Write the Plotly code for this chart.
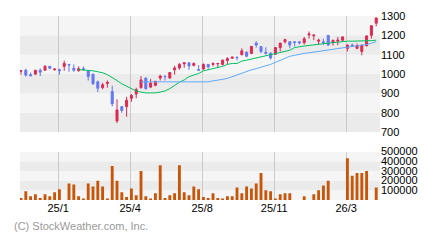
import plotly.graph_objects as go

# ---------------- data (weekly bars) ----------------
opens = [1015, 1020, 997, 1000, 1020, 1020, 1040, 1023, 1023, 1040,
         1050, 1030, 1018, 1028, 1017, 1000, 960, 930, 952, 910,
         758, 832, 832, 875, 897, 930, 980, 933, 942, 980,
         990, 980, 1022, 1032, 1053, 1058, 1045, 1023, 1027, 1050,
         1050, 1053, 1050, 1070, 1082, 1088, 1100, 1113, 1107, 1160,
         1142, 1113, 1108, 1103, 1137, 1167, 1167, 1167, 1167, 1162,
         1202, 1198, 1170, 1167, 1200, 1163, 1170, 1175, 1133, 1150,
         1133, 1117, 1147, 1200, 1263]
highs = [1018, 1028, 1008, 1020, 1030, 1047, 1040, 1030, 1028, 1070,
         1050, 1050, 1040, 1040, 1017, 1000, 967, 955, 967, 940,
         870, 835, 883, 897, 930, 990, 980, 975, 963, 997,
         990, 1008, 1043, 1057, 1058, 1058, 1060, 1047, 1055, 1050,
         1060, 1055, 1075, 1087, 1088, 1088, 1133, 1117, 1143, 1170,
         1142, 1138, 1113, 1137, 1160, 1183, 1170, 1167, 1170, 1192,
         1220, 1202, 1183, 1183, 1200, 1175, 1192, 1195, 1153, 1158,
         1158, 1150, 1200, 1250, 1290]
lows = [997, 987, 988, 995, 990, 1017, 1028, 1017, 997, 1017,
        1012, 1012, 1012, 1020, 967, 945, 907, 922, 930, 833,
        747, 800, 780, 857, 875, 925, 920, 928, 937, 967,
        967, 975, 997, 1023, 1033, 1022, 1040, 1017, 1022, 1028,
        1040, 1033, 1045, 1050, 1080, 1070, 1097, 1087, 1103, 1137,
        1108, 1100, 1075, 1100, 1117, 1158, 1133, 1142, 1153, 1153,
        1183, 1175, 1150, 1150, 1147, 1147, 1150, 1170, 1117, 1142,
        1128, 1097, 1142, 1183, 1247]
closes = [1018, 995, 992, 1020, 1010, 1040, 1030, 1026, 1018, 1055,
          1047, 1020, 1028, 1023, 987, 950, 927, 945, 957, 847,
          815, 812, 865, 890, 920, 970, 925, 953, 963, 990,
          987, 1008, 1032, 1050, 1058, 1042, 1055, 1020, 1050, 1037,
          1055, 1055, 1072, 1080, 1088, 1085, 1120, 1092, 1143, 1150,
          1117, 1108, 1083, 1137, 1160, 1178, 1150, 1163, 1162, 1182,
          1207, 1202, 1175, 1163, 1150, 1175, 1175, 1192, 1150, 1145,
          1147, 1150, 1197, 1250, 1290]

# 13-week moving average
ma_short = [None] * 12 + [
    1023, 1022, 1020, 1017, 1012, 1007, 997, 983, 967, 950,
    938, 925, 913, 907, 903, 903, 903, 907, 913, 925,
    942, 958, 970, 987, 995, 1003, 1017, 1022, 1028, 1033,
    1040, 1050, 1055, 1055, 1067, 1072, 1078, 1083, 1088, 1092,
    1100, 1105, 1112, 1117, 1123, 1137, 1142, 1145, 1148, 1150,
    1153, 1157, 1160, 1163, 1167, 1168, 1170, 1170, 1170, 1170,
    1170, 1173, 1175]

# 26-week moving average
ma_long = [None] * 25 + [
    960, 960, 960, 960, 960, 960, 960, 960, 960, 960,
    960, 960, 960, 960, 960, 965, 968, 973, 978, 987,
    997, 1005, 1013, 1022, 1028, 1037, 1043, 1050, 1060, 1070,
    1080, 1092, 1097, 1103, 1107, 1110, 1113, 1118, 1122, 1125,
    1128, 1132, 1135, 1138, 1142, 1145, 1148, 1153, 1160, 1167]

volumes = [20000, 90000, 40000, 60000, 20000, 60000, 40000, 80000, 110000, 0,
           170000, 160000, 40000, 10000, 170000, 140000, 200000, 140000, 10000, 350000,
           200000, 80000, 30000, 120000, 50000, 300000, 40000, 10000, 70000, 360000,
           20000, 50000, 70000, 360000, 80000, 50000, 140000, 110000, 30000, 20000,
           70000, 20000, 10000, 40000, 40000, 130000, 70000, 140000, 120000, 170000,
           280000, 100000, 90000, 10000, 60000, 70000, 70000, 0, 0, 40000,
           0, 60000, 100000, 150000, 200000, 0, 0, 0, 430000, 250000,
           280000, 280000, 300000, 0, 130000]

bar_index = list(range(len(closes)))

month_tick_pos = [7.75, 22.75, 37.75, 52.75, 67.75]
month_tick_text = ["25/1", "25/4", "25/8", "25/11", "26/3"]

price_ticks = [700, 800, 900, 1000, 1100, 1200, 1300]
volume_ticks = [100000, 200000, 300000, 400000, 500000]

# ---------------- style ----------------
RED = "#dc2a52"
BLUE = "#6478f0"
GREEN = "#00c060"
LBLUE = "#60aaf8"
ORANGE = "#c8560a"
LIGHT = "#f5f5f5"
DARK = "#ebebeb"
GRID = "#cacaca"
FONT = "Liberation Sans, Arial, sans-serif"

fig = go.Figure()

fig.add_trace(go.Candlestick(
    x=bar_index, open=opens, high=highs, low=lows, close=closes,
    increasing=dict(line=dict(color=RED, width=1), fillcolor=RED),
    decreasing=dict(line=dict(color=BLUE, width=1), fillcolor=BLUE),
    whiskerwidth=0, showlegend=False, hoverinfo="skip",
    xaxis="x", yaxis="y"))

fig.add_trace(go.Scatter(x=bar_index, y=ma_short, mode="lines",
                         line=dict(color=GREEN, width=1),
                         showlegend=False, hoverinfo="skip",
                         xaxis="x", yaxis="y"))
fig.add_trace(go.Scatter(x=bar_index, y=ma_long, mode="lines",
                         line=dict(color=LBLUE, width=1),
                         showlegend=False, hoverinfo="skip",
                         xaxis="x", yaxis="y"))

fig.add_trace(go.Bar(x=bar_index, y=volumes, width=0.6,
                     marker=dict(color=ORANGE, line=dict(width=0)),
                     showlegend=False, hoverinfo="skip",
                     xaxis="x2", yaxis="y2"))

# background bands
shapes = []
for k in range(len(price_ticks) - 1):
    lo, hi = price_ticks[k], price_ticks[k + 1]
    col = DARK if k % 2 == 0 else LIGHT
    shapes.append(dict(type="rect", xref="paper", yref="y", x0=0, x1=1,
                       y0=lo, y1=hi, fillcolor=col, line=dict(width=0),
                       layer="below"))
vol_edges = [0] + volume_ticks
for k in range(len(vol_edges) - 1):
    lo, hi = vol_edges[k], vol_edges[k + 1]
    col = LIGHT if k % 2 == 0 else DARK
    shapes.append(dict(type="rect", xref="paper", yref="y2", x0=0, x1=1,
                       y0=lo, y1=hi, fillcolor=col, line=dict(width=0),
                       layer="below"))

xr = [-0.21, 74.79]

fig.update_layout(
    width=440, height=240,
    margin=dict(l=20, r=60, t=10, b=40, pad=0),
    paper_bgcolor="white", plot_bgcolor="white",
    font=dict(family=FONT, size=11, color="black"),
    boxgap=0.4,
    shapes=shapes,
    xaxis=dict(domain=[0, 1], range=xr, anchor="y",
               tickvals=month_tick_pos, showticklabels=False,
               showgrid=True, gridcolor=GRID, gridwidth=1,
               zeroline=False, showline=False, ticks="",
               rangeslider=dict(visible=False), fixedrange=True),
    yaxis=dict(domain=[70 / 190, 1], range=[700, 1300], side="right",
               anchor="x", tickvals=price_ticks, showgrid=False,
               zeroline=False, showline=False, ticks="",
               tickfont=dict(size=11, color="black")),
    xaxis2=dict(domain=[0, 1], range=xr, anchor="y2",
                tickvals=month_tick_pos, ticktext=month_tick_text,
                showgrid=True, gridcolor=GRID, gridwidth=1,
                zeroline=False, showline=False, ticks="",
                tickfont=dict(size=11, color="black")),
    yaxis2=dict(domain=[0, 50 / 190], range=[0, 500000], side="right",
                anchor="x2", tickvals=volume_ticks, showgrid=False,
                zeroline=False, showline=False, ticks="",
                tickformat="d",
                tickfont=dict(size=11, color="black")),
    annotations=[dict(text="(C) StockWeather.com, Inc.", xref="paper",
                      yref="paper", x=-8 / 360, y=-27 / 190,
                      xanchor="left", yanchor="middle", showarrow=False,
                      font=dict(size=11, color="#9a9a9a", family=FONT))],
)

fig.write_html("out.html")
